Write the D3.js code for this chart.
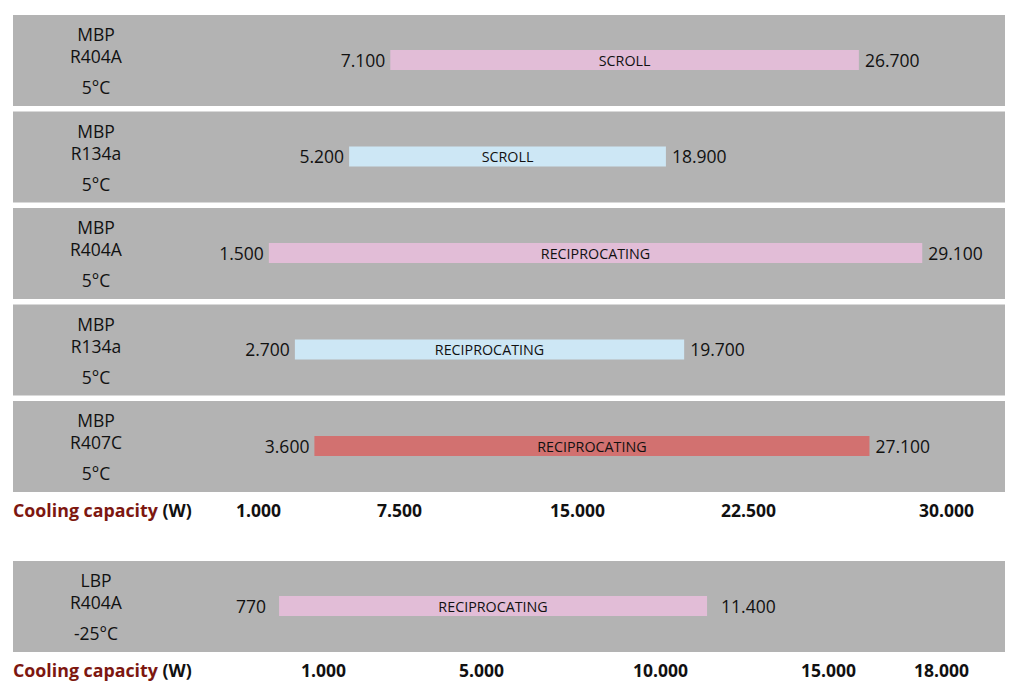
<!DOCTYPE html>
<html><head><meta charset="utf-8">
<script src="https://cdn.jsdelivr.net/npm/d3@7"></script>
<style>
body{margin:0;background:#fff;}
text{font-family:"Open Sans",sans-serif;}
</style></head>
<body><svg id="c" width="1024" height="696"></svg>
<script>
// ---- data: top chart (MBP) ----
const topGroups = ["MBP", "MBP", "MBP", "MBP", "MBP"];
const topRefrigerants = ["R404A", "R134a", "R404A", "R134a", "R407C"];
const topTemps = ["5°C", "5°C", "5°C", "5°C", "5°C"];
const topTypes = ["SCROLL", "SCROLL", "RECIPROCATING", "RECIPROCATING", "RECIPROCATING"];
const topMin = [7100, 5200, 1500, 2700, 3600];
const topMax = [26700, 18900, 29100, 19700, 27100];
const topColorKeys = ["pink", "blue", "pink", "blue", "red"];
const topTicks = [1000, 7500, 15000, 22500, 30000];

// ---- data: bottom chart (LBP) ----
const botGroups = ["LBP"];
const botRefrigerants = ["R404A"];
const botTemps = ["-25°C"];
const botTypes = ["RECIPROCATING"];
const botMin = [770];
const botMax = [11400];
const botColorKeys = ["pink"];
const botTicks = [1000, 5000, 10000, 15000, 18000];

const axisTitle = "Cooling capacity";
const axisUnit = " (W)";

const colors = {pink: "#e2bdd7", blue: "#cde7f5", red: "#d27170"};
const fmt = v => d3.format(",")(v).replace(/,/g, ".");

const svg = d3.select("#c");

// hand-drawn infographic: piecewise scales anchored on the printed tick positions
const xTop = d3.scaleLinear().domain(topTicks).range([258, 399, 577, 748, 946]);
const xBot = d3.scaleLinear().domain([0].concat(botTicks)).range([132, 323, 481, 660, 828, 941]);

function drawChart(rows, x, ticks, top0, axisY, gap) {
  const step = 96.5, panelH = 91;
  const g = svg.append("g");
  const rowsG = g.selectAll("g.row").data(rows).join("g")
    .attr("transform", (d, i) => `translate(0,${top0 + i * step})`);
  rowsG.append("rect").attr("x", 13).attr("y", 0).attr("width", 992).attr("height", panelH).attr("fill", "#b3b3b3");
  const lab = rowsG.append("g").attr("font-size", 17.5).attr("fill", "#111").attr("text-anchor", "middle");
  lab.append("text").attr("x", 96).attr("y", 26).text(d => d.group);
  lab.append("text").attr("x", 96).attr("y", 48).text(d => d.ref);
  lab.append("text").attr("x", 96).attr("y", 79).text(d => d.temp);
  rowsG.append("rect")
    .attr("x", d => x(d.min)).attr("y", 35)
    .attr("width", d => x(d.max) - x(d.min)).attr("height", 20)
    .attr("fill", d => colors[d.color]);
  rowsG.append("text").attr("x", d => (x(d.min) + x(d.max)) / 2).attr("y", 50.5)
    .attr("text-anchor", "middle").attr("font-size", 14.3).attr("fill", "#111").text(d => d.type);
  rowsG.append("text").attr("x", d => x(d.min) - gap).attr("y", 51.5)
    .attr("text-anchor", "end").attr("font-size", 17.5).attr("fill", "#111").text(d => fmt(d.min));
  rowsG.append("text").attr("x", d => x(d.max) + gap + 1).attr("y", 51.5)
    .attr("text-anchor", "start").attr("font-size", 17.5).attr("fill", "#111").text(d => fmt(d.max));

  const axis = d3.axisBottom(x).tickValues(ticks).tickFormat(fmt).tickSize(0).tickPadding(0);
  const ag = g.append("g").attr("transform", `translate(0,${axisY})`).call(axis);
  ag.select(".domain").remove();
  ag.selectAll("text").attr("font-size", 17.5).attr("font-weight", "bold").attr("fill", "#111")
    .attr("dy", 0).attr("y", 0).style("font-family", '"Open Sans",sans-serif');

  const t = g.append("text").attr("x", 13).attr("y", axisY).attr("font-size", 17.8).attr("font-weight", "bold");
  t.append("tspan").attr("fill", "#7d1710").text(axisTitle);
  t.append("tspan").attr("fill", "#111").text(axisUnit);
}

const topRows = topMin.map((m, i) => ({group: topGroups[i], ref: topRefrigerants[i], temp: topTemps[i],
  type: topTypes[i], min: m, max: topMax[i], color: topColorKeys[i]}));
const botRows = botMin.map((m, i) => ({group: botGroups[i], ref: botRefrigerants[i], temp: botTemps[i],
  type: botTypes[i], min: m, max: botMax[i], color: botColorKeys[i]}));

drawChart(topRows, xTop, topTicks, 15, 517, 5);
drawChart(botRows, xBot, botTicks, 561, 677, 13);
</script></body></html>
